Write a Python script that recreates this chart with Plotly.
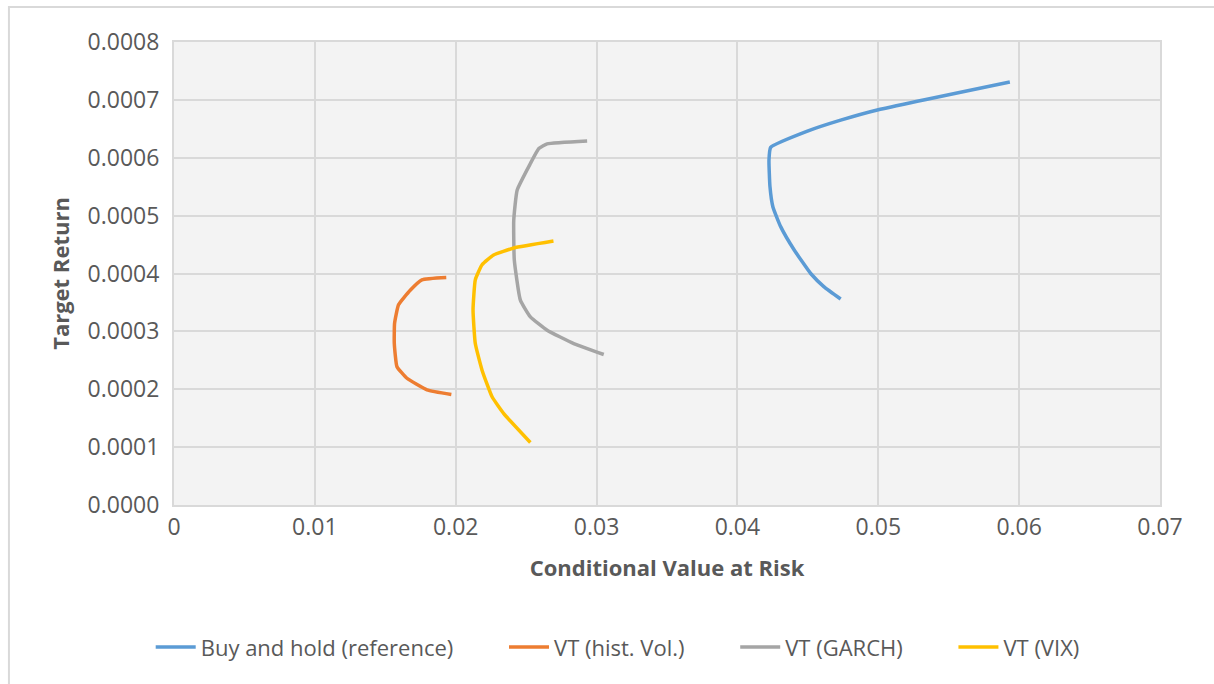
import plotly.graph_objects as go

# Efficient frontiers: Conditional Value at Risk (x) vs. target return (y)
buy_hold_cvar = [0.05934, 0.0500, 0.04733, 0.04497, 0.04236, 0.04224, 0.04231, 0.04252,
                 0.04307, 0.04402, 0.04520, 0.04615, 0.04733]
buy_hold_ret = [0.000731, 0.000683, 0.000665, 0.000646, 0.000618, 0.000596, 0.000550,
                0.000515, 0.000481, 0.000441, 0.000400, 0.000377, 0.000356]

hist_vol_cvar = [0.01933, 0.01760, 0.01677, 0.01594, 0.01566, 0.01564, 0.01583,
                 0.01654, 0.01796, 0.01969]
hist_vol_ret = [0.000393, 0.000389, 0.000371, 0.000346, 0.000314, 0.000279, 0.000239,
                0.000219, 0.000199, 0.000191]

garch_cvar = [0.02933, 0.02649, 0.02590, 0.02530, 0.02436, 0.02412, 0.02416, 0.02459,
              0.02530, 0.02649, 0.02838, 0.03051]
garch_ret = [0.000629, 0.000624, 0.000616, 0.000590, 0.000544, 0.000492, 0.000423,
             0.000354, 0.000325, 0.000302, 0.000279, 0.000260]

vix_cvar = [0.02694, 0.02412, 0.02269, 0.02187, 0.02139, 0.02123, 0.02139, 0.02187,
            0.02258, 0.02341, 0.02530]
vix_ret = [0.000456, 0.000444, 0.000432, 0.000415, 0.000389, 0.000337, 0.000279,
           0.000233, 0.000187, 0.000158, 0.000108]

series_names = ["Buy and hold (reference)", "VT (hist. Vol.)", "VT (GARCH)", "VT (VIX)"]
series_colors = ["#5B9BD5", "#ED7D31", "#A5A5A5", "#FFC000"]
series_x = [buy_hold_cvar, hist_vol_cvar, garch_cvar, vix_cvar]
series_y = [buy_hold_ret, hist_vol_ret, garch_ret, vix_ret]

x_ticks = [0, 0.01, 0.02, 0.03, 0.04, 0.05, 0.06, 0.07]
x_tick_labels = ["0", "0.01", "0.02", "0.03", "0.04", "0.05", "0.06", "0.07"]
y_ticks = [0, 0.0001, 0.0002, 0.0003, 0.0004, 0.0005, 0.0006, 0.0007, 0.0008]
y_tick_labels = ["0.0000", "0.0001", "0.0002", "0.0003", "0.0004", "0.0005",
                 "0.0006", "0.0007", "0.0008"]

# trailing non-breaking spaces widen the gap between legend entries
legend_pad = "\u00a0" * 8

fig = go.Figure()
for i, (name, xs, ys, color) in enumerate(zip(series_names, series_x, series_y, series_colors)):
    label = name + (legend_pad if i < len(series_names) - 1 else "")
    fig.add_trace(go.Scatter(
        x=xs, y=ys, name=label, mode="lines",
        line=dict(color=color, width=3.5, shape="spline", smoothing=0.4),
    ))

font_family = "Open Sans, Segoe UI, sans-serif"
text_color = "#595959"
grid_color = "#d9d9d9"

fig.update_layout(
    width=1214, height=684,
    margin=dict(l=174, r=54, t=42, b=179),
    paper_bgcolor="white",
    plot_bgcolor="#f3f3f3",
    font=dict(family=font_family, size=22, color=text_color),
    showlegend=True,
    legend=dict(
        orientation="h", x=0.45, xanchor="center", y=-0.307, yanchor="middle",
        font=dict(size=22, color=text_color), itemwidth=40,
        bgcolor="rgba(0,0,0,0)",
    ),
    xaxis=dict(
        range=[0, 0.07], tickvals=x_ticks, ticktext=x_tick_labels,
        showgrid=True, gridcolor=grid_color, gridwidth=2,
        showline=True, linecolor=grid_color, linewidth=2, mirror=True,
        zeroline=False, ticks="", tickfont=dict(size=23, color=text_color),
        title=dict(text="<b>Conditional Value at Risk</b>",
                   font=dict(size=22, color=text_color), standoff=20),
    ),
    yaxis=dict(
        range=[0, 0.0008], tickvals=y_ticks, ticktext=y_tick_labels,
        showgrid=True, gridcolor=grid_color, gridwidth=2,
        showline=True, linecolor=grid_color, linewidth=2, mirror=True,
        zeroline=False, ticks="", ticklabelstandoff=8,
        tickfont=dict(size=23, color=text_color),
        title=dict(text="<b>Target Return</b>",
                   font=dict(size=22, color=text_color), standoff=12),
    ),
    shapes=[dict(
        type="rect", xref="paper", yref="paper",
        x0=-0.1674, x1=1.12, y0=-0.45, y1=1.0756,
        line=dict(color="#d9d9d9", width=2), fillcolor="rgba(0,0,0,0)",
        layer="below",
    )],
)

fig.write_html("out.html")
